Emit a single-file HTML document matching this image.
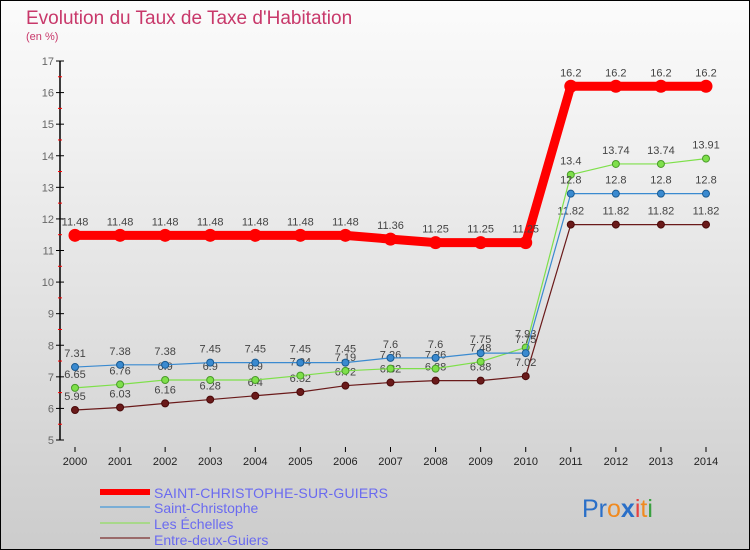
<!DOCTYPE html>
<html><head><meta charset="utf-8"><style>
body{margin:0}
#c{width:750px;height:550px;position:relative;box-sizing:border-box;border:1px solid #000;background:linear-gradient(#fbfbfb,#f3f3f3 20%,#cccccc);font-family:"Liberation Sans",sans-serif;overflow:hidden}
</style></head><body>
<div id="c">
<svg id="s" width="750" height="550" style="position:absolute;left:-1px;top:-1px">
<text x="26" y="24" font-size="19" fill="#c8386a">Evolution du Taux de Taxe d'Habitation</text>
<text x="26" y="40" font-size="11" fill="#c8386a">(en %)</text>
<g font-size="14">
<line x1="100" y1="492" x2="150" y2="492" stroke="#f00" stroke-width="6"/>
<text x="154" y="498" fill="#6a6af0" textLength="234">SAINT-CHRISTOPHE-SUR-GUIERS</text>
<line x1="100" y1="507" x2="150" y2="507" stroke="#7aaed6" stroke-width="2"/>
<text x="154" y="513" fill="#6a6af0">Saint-Christophe</text>
<line x1="100" y1="523" x2="150" y2="523" stroke="#a8d88a" stroke-width="2"/>
<text x="154" y="529" fill="#6a6af0">Les Échelles</text>
<line x1="100" y1="538" x2="150" y2="538" stroke="#9a6a6a" stroke-width="2"/>
<text x="154" y="545" fill="#6a6af0">Entre-deux-Guiers</text>
</g>
<text x="582" y="517" font-size="25"><tspan fill="#2a6fc8">Pr</tspan><tspan fill="#f08a20">o</tspan><tspan fill="#2a6fc8" font-weight="bold">x</tspan><tspan fill="#e84040">i</tspan><tspan fill="#f08a20">t</tspan><tspan fill="#3aa040">i</tspan></text>
</svg>
</div>
<script>
const years=[2000,2001,2002,2003,2004,2005,2006,2007,2008,2009,2010,2011,2012,2013,2014];
const yTicks=[5,6,7,8,9,10,11,12,13,14,15,16,17];
const mainVals=[11.48,11.48,11.48,11.48,11.48,11.48,11.48,11.36,11.25,11.25,11.25,16.2,16.2,16.2,16.2];
const stChristophe=[7.31,7.38,7.38,7.45,7.45,7.45,7.45,7.6,7.6,7.75,7.75,12.8,12.8,12.8,12.8];
const lesEchelles=[6.65,6.76,6.9,6.9,6.9,7.04,7.19,7.26,7.26,7.48,7.93,13.4,13.74,13.74,13.91];
const entreDeux=[5.95,6.03,6.16,6.28,6.4,6.52,6.72,6.82,6.88,6.88,7.02,11.82,11.82,11.82,11.82];
const NS="http://www.w3.org/2000/svg";
const s=document.getElementById('s');
const X=i=>75+i*(706-75)/(years.length-1);
const Y=v=>440-(v-5)*(440-61)/12;
function el(t,a,p){const e=document.createElementNS(NS,t);for(const k in a)e.setAttribute(k,a[k]);(p||s).appendChild(e);return e;}
const ax=el('g',{});


const yl=el('line',{x1:60,y1:61,x2:60,y2:440,stroke:'#000','stroke-width':1.5},ax);


yTicks.forEach(v=>{
  el('line',{x1:56,y1:Y(v),x2:64,y2:Y(v),stroke:'#000'},ax);
  if(v<17)el('line',{x1:58,y1:Y(v+0.5),x2:62,y2:Y(v+0.5),stroke:'#f00'},ax);
  const t=el('text',{x:54,y:Y(v)+4,'text-anchor':'end','font-size':11,fill:'#666'},ax);
  
  
  t.textContent=v;
});
years.forEach((y,i)=>{
  el('line',{x1:X(i),y1:447,x2:X(i),y2:452,stroke:'#000'},ax);
  const t=el('text',{x:X(i),y:465,'text-anchor':'middle','font-size':11,fill:'#222'},ax);
  
  
  t.textContent=y;
});
function series(vals,color,w,r,name,lc){
  const g=el('g',{});
  
  
  const p=el('polyline',{points:vals.map((v,i)=>X(i)+','+Y(v)).join(' '),fill:'none',stroke:color,'stroke-width':w,'stroke-linejoin':'round'},g);
  
  
  vals.forEach((v,i)=>{
    const c=el('circle',{cx:X(i),cy:Y(v),r:r,fill:color,stroke:lc,'stroke-width':1},g);
    
    
    const t=el('text',{x:X(i),y:Y(v)-10,'text-anchor':'middle','font-size':11,fill:'#444'},g);
    
    
    t.textContent=v;
  });
}
series(entreDeux,'#6a1a1a',1.2,3.5,'entre-deux-guiers','#4a0a0a');
series(lesEchelles,'#7ee04a',1.2,3.5,'les-echelles','#4a9a2a');
series(stChristophe,'#3a8ad0',1.2,3.5,'saint-christophe','#1a5a90');
series(mainVals,'#f00',9,6,'saint-christophe-sur-guiers','#f00');
</script>
</body></html>
